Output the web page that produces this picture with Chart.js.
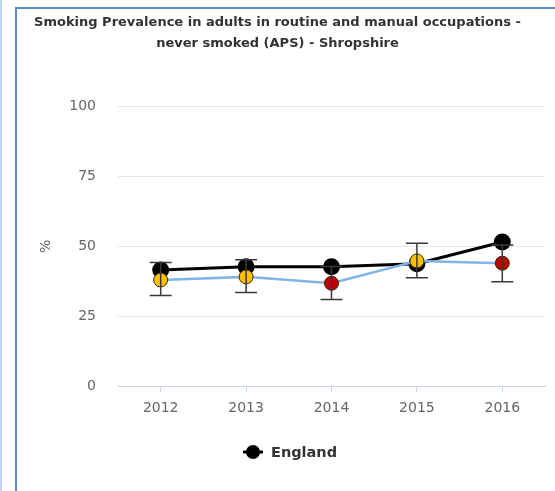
<!DOCTYPE html>
<html>
<head>
<meta charset="utf-8">
<style>
    body { margin: 0; background: #fff; }
    .wrap { position: relative; width: 555px; height: 491px; overflow: hidden; }
    .strip { position: absolute; left: 0; top: 0; width: 2px; height: 491px; background: #bcd3ec; }
    .frame { position: absolute; left: 15px; top: 7px; width: 540px; height: 484px;
             border-left: 2px solid #5b8cc9; border-top: 2px solid #5b8cc9; box-sizing: border-box; }
    canvas { position: absolute; left: 0; top: 0; }
</style>
</head>
<body>
<div class="wrap">
    <div class="strip"></div>
    <div class="frame"></div>
    <canvas id="chart" width="555" height="491"></canvas>
</div>

<script src="https://cdn.jsdelivr.net/npm/chart.js"></script>
<script>
    const years = ['2012', '2013', '2014', '2015', '2016'];
    const shropshire = [38.0, 39.1, 36.8, 44.8, 44.0];
    const shropshireLower = [32.4, 33.5, 31.0, 38.8, 37.4];
    const shropshireUpper = [44.2, 45.2, 42.8, 51.1, 50.5];
    const england = [41.6, 42.7, 42.7, 43.8, 51.6];
    const yTicks = [0, 25, 50, 75, 100];

    // significance colours for the local markers
    const pointColours = ['#ffc000', '#ffc000', '#c00000', '#ffc000', '#c00000'];

    const FONT = '"DejaVu Sans", Verdana, sans-serif';

    const errorBars = {
        id: 'errorBars',
        afterDatasetsDraw(chart) {
            const x = chart.scales.x, y = chart.scales.y, ctx = chart.ctx;
            ctx.save();
            ctx.strokeStyle = '#3a3a3a';
            ctx.lineWidth = 1.5;
            years.forEach((yr, i) => {
                const px = x.getPixelForValue(i);
                const top = y.getPixelForValue(shropshireUpper[i]);
                const bot = y.getPixelForValue(shropshireLower[i]);
                ctx.beginPath();
                ctx.moveTo(px, top); ctx.lineTo(px, bot);
                ctx.moveTo(px - 11, top); ctx.lineTo(px + 11, top);
                ctx.moveTo(px - 11, bot); ctx.lineTo(px + 11, bot);
                ctx.stroke();
            });
            ctx.restore();
        }
    };

    // legend only shows the England series, drawn by hand so it sits where the original has it
    const englandLegend = {
        id: 'englandLegend',
        afterDraw(chart) {
            const ctx = chart.ctx;
            const ly = 452;
            ctx.save();
            ctx.strokeStyle = '#000';
            ctx.lineWidth = 3;
            ctx.beginPath(); ctx.moveTo(243, ly); ctx.lineTo(263, ly); ctx.stroke();
            ctx.fillStyle = '#000';
            ctx.beginPath(); ctx.arc(253, ly, 7, 0, Math.PI * 2); ctx.fill();
            ctx.fillStyle = '#333';
            ctx.font = 'bold 14.5px ' + FONT;
            ctx.textBaseline = 'middle';
            ctx.fillText(chart.data.datasets[0].label, 271, ly + 1);
            ctx.restore();
        }
    };

    new Chart(document.getElementById('chart').getContext('2d'), {
        type: 'line',
        data: {
            labels: years,
            datasets: [
                {
                    label: 'England',
                    data: england,
                    order: 2,
                    borderColor: '#000',
                    borderWidth: 3,
                    backgroundColor: '#000',
                    pointBackgroundColor: '#000',
                    pointBorderColor: '#000',
                    pointRadius: 7,
                    tension: 0
                },
                {
                    label: 'Shropshire',
                    data: shropshire,
                    order: 1,
                    borderColor: '#80b4ea',
                    borderWidth: 2.5,
                    pointBackgroundColor: pointColours,
                    pointBorderColor: '#3a2a00',
                    pointBorderWidth: 1,
                    pointRadius: 7,
                    tension: 0
                }
            ]
        },
        options: {
            responsive: false,
            animation: false,
            layout: { padding: { left: 0, right: 0, top: 8, bottom: 66 } },
            scales: {
                x: {
                    offset: true,
                    afterFit(scale) { scale.paddingLeft = 0; scale.paddingRight = 0; },
                    grid: {
                        offset: false,
                        drawOnChartArea: false,
                        drawTicks: true,
                        tickLength: 6,
                        color: '#ccd6eb'
                    },
                    border: { color: '#ccd6eb', width: 1 },
                    ticks: { color: '#666', font: { family: FONT, size: 14 }, padding: 8 }
                },
                y: {
                    min: 0,
                    max: 100,
                    afterBuildTicks(scale) { scale.ticks = yTicks.map(v => ({ value: v })); },
                    afterFit(scale) { scale.width = 118; },
                    grid: { color: '#e6e6e6', drawTicks: false },
                    border: { display: false },
                    ticks: { color: '#666', font: { family: FONT, size: 14 }, padding: 22 },
                    title: { display: true, text: '%', color: '#666', font: { family: FONT, size: 14 }, padding: { top: 38, bottom: 0 } }
                }
            },
            plugins: {
                title: {
                    display: true,
                    text: ['Smoking Prevalence in adults in routine and manual occupations -', 'never smoked (APS) - Shropshire'],
                    color: '#333',
                    font: { family: FONT, size: 13, weight: 'bold', lineHeight: 1.6 },
                    padding: { top: 4, bottom: 53 }
                },
                legend: { display: false },
                tooltip: { enabled: false }
            }
        },
        plugins: [errorBars, englandLegend]
    });
</script>
</body>
</html>
